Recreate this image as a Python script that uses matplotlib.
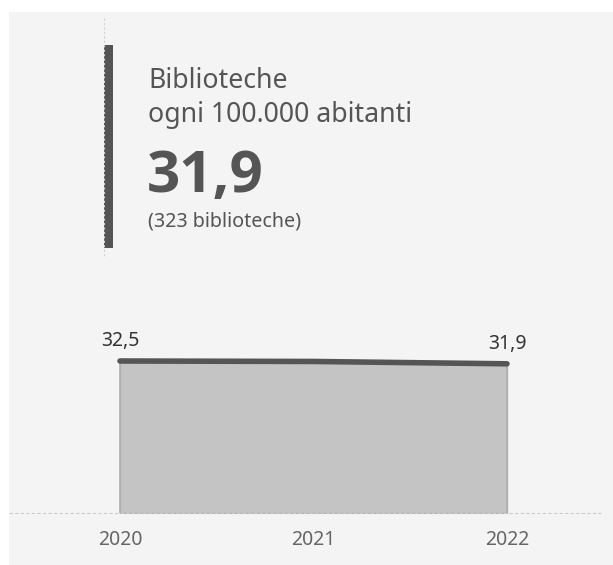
import matplotlib.pyplot as plt

# -------------------------
# DATA
# -------------------------
years = [2020, 2021, 2022]
values = [32.5, 32.4, 31.9]
value_labels = ['32,5', '', '31,9']
tick_labels = ['2020', '2021', '2022']

kpi_title = ['Biblioteche', 'ogni 100.000 abitanti']
kpi_value = '31,9'
kpi_note = '(323 biblioteche)'

# -------------------------
# STYLE
# -------------------------
plt.rcParams['font.family'] = ['Noto Sans', 'DejaVu Sans']
txt = '#555555'
bg = '#f4f4f4'

W, H = 613, 565
fig = plt.figure(figsize=(W / 100, H / 100), dpi=100)
fig.patch.set_facecolor('white')

# gray panel
fig.patches.append(plt.Rectangle((9 / W, 0), 1, 1 - 12 / H, transform=fig.transFigure,
                                 facecolor=bg, edgecolor='none', zorder=-10))

# -------------------------
# KPI BLOCK
# -------------------------
fig.add_artist(plt.Line2D([104 / W, 104 / W], [1 - 18 / H, 1 - 258 / H], color='#d0d0d0',
                          lw=0.8, ls=(0, (2, 2))))
fig.patches.append(plt.Rectangle((104 / W, 1 - 248 / H), 9 / W, 203 / H, transform=fig.transFigure,
                                 facecolor=txt, edgecolor='none'))
for line, base in zip(kpi_title, [88, 122]):
    fig.text(148 / W, 1 - base / H, line, fontsize=19.2, color=txt, va='baseline', ha='left')
fig.text(147 / W, 1 - 192 / H, kpi_value, fontsize=42, fontweight='bold', color=txt,
         va='baseline', ha='left', family=['Open Sans', 'DejaVu Sans'])
fig.text(148 / W, 1 - 227 / H, kpi_note, fontsize=14.2, color=txt, va='baseline', ha='left')

# -------------------------
# AREA CHART
# -------------------------
ax = fig.add_axes([9 / W, 1 - 513 / H, (601 - 9) / W, (513 - 300) / H])
ax.set_facecolor('none')
px_per_year = (507 - 120) / 2
ax.set_xlim(2020 - (120 - 9) / px_per_year, 2022 + (601 - 507) / px_per_year)
px_per_unit = 152 / 32.5
ax.set_ylim(0, (513 - 300) / px_per_unit)

ax.fill_between(years, values, 0, color='#c4c4c4', edgecolor='#b0b0b0', lw=1)
ax.vlines([years[0], years[-1]], 0, [values[0], values[-1]], color='#b0b0b0', lw=1.2)
ax.plot(years, values, color=txt, lw=4, solid_capstyle='round')
ax.axhline(0, color='#cccccc', lw=0.8, ls=(0, (3, 2)), clip_on=False)

for x, v, lab in zip(years, values, value_labels):
    if lab:
        ax.annotate(lab, (x, v), xytext=(0, 7), textcoords='offset points',
                    ha='center', va='bottom', fontsize=14, color='#333333')

ax.set_xticks(years)
ax.set_xticklabels(tick_labels, fontsize=14, color='#666666')
ax.tick_params(axis='x', length=0, pad=12)
ax.set_yticks([])
for s in ax.spines.values():
    s.set_visible(False)

plt.savefig('out.png', dpi=100, facecolor='white')
